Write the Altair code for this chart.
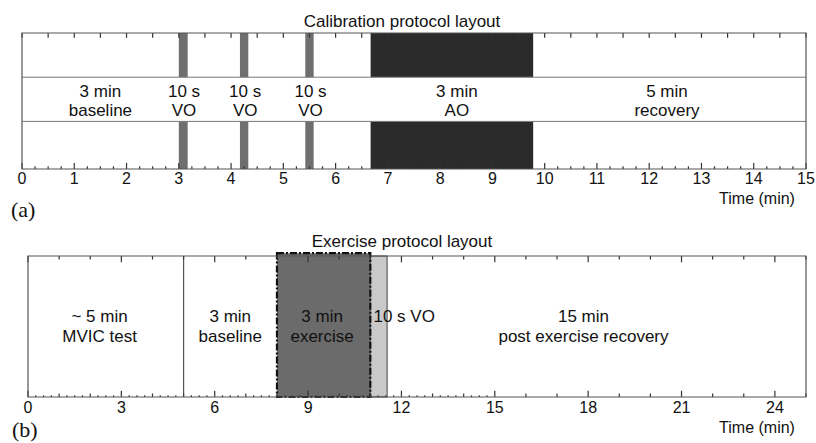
import altair as alt
import pandas as pd

FONT = "Liberation Sans"
FS = 17

# ---------------- Panel (a): calibration protocol ----------------
A_TITLE = "Calibration protocol layout"
A_TICKS = list(range(0, 16))
A_SEG_LABEL = ["VO", "VO", "VO", "AO"]
A_SEG_START = [3.0, 4.17, 5.42, 6.67]
A_SEG_END = [3.17, 4.33, 5.58, 9.78]
A_SEG_COLOR = ["#6f6f6f", "#6f6f6f", "#6f6f6f", "#2b2b2b"]
A_TEXT_X = [1.5, 3.1, 4.27, 5.52, 8.32, 12.34]
A_TEXT_L1 = ["3 min", "10 s", "10 s", "10 s", "3 min", "5 min"]
A_TEXT_L2 = ["baseline", "VO", "VO", "VO", "AO", "recovery"]

# ---------------- Panel (b): exercise protocol ----------------
B_TITLE = "Exercise protocol layout"
B_TICKS = [0, 3, 6, 9, 12, 15, 18, 21, 24]
B_DIVIDER = [5.0]
B_EXERCISE = [8.0, 11.0]
B_VO = [11.0, 11.54]
B_TEXT_X = [2.3, 6.5, 9.45, 17.85]
B_TEXT_L1 = ["~ 5 min", "3 min", "3 min", "15 min"]
B_TEXT_L2 = ["MVIC test", "baseline", "exercise", "post exercise recovery"]
B_VO_TEXT = "10 s VO"
B_VO_TEXT_X = 11.1

X_TITLE = "Time (min)"

# ---------------- scales ----------------
def xa(f):
    return alt.X(f, type="quantitative", axis=None,
                 scale=alt.Scale(domain=[0, 15], range=[22, 806], nice=False, zero=False))

def ya(f):
    return alt.Y(f, type="quantitative", axis=None,
                 scale=alt.Scale(domain=[0, 1], range=[169, 33], nice=False, zero=False))

def xb(f):
    return alt.X(f, type="quantitative", axis=None,
                 scale=alt.Scale(domain=[0, 25], range=[28, 806], nice=False, zero=False))

def yb(f):
    return alt.Y(f, type="quantitative", axis=None,
                 scale=alt.Scale(domain=[0, 1], range=[397, 256], nice=False, zero=False))

BAND_LO, BAND_HI = 0.35, 0.675
L1_Y, L2_Y = 0.566, 0.426

def txt(**kw):
    base = dict(font=FONT, fontSize=FS, baseline="middle", color="#111")
    base.update(kw)
    return base

# ---------------- panel (a) layers ----------------
seg = pd.DataFrame({"label": A_SEG_LABEL, "s": A_SEG_START, "e": A_SEG_END, "c": A_SEG_COLOR})
seg_up = seg.assign(y0=BAND_HI, y1=1.0)
seg_lo = seg.assign(y0=0.0, y1=BAND_LO)
seg_df = pd.concat([seg_up, seg_lo], ignore_index=True)

a_bars = alt.Chart(seg_df).mark_rect().encode(
    x=xa("s"), x2="e", y=ya("y0"), y2="y1",
    color=alt.Color("c:N", scale=None))

a_band = alt.Chart(pd.DataFrame({"x0": [0, 0], "x1": [15, 15], "y": [BAND_LO, BAND_HI]})).mark_rule(
    color="#777", strokeWidth=1).encode(x=xa("x0"), x2="x1", y=ya("y"))

a_ticks_rows = []
for i in range(61):
    t = i * 0.25
    if i % 4 == 0:
        a_ticks_rows.append((t, 0.0, 0.045))
    else:
        a_ticks_rows.append((t, 0.0, 0.02))
    if i % 2 == 0:
        a_ticks_rows.append((t, 1.0, 0.965))
a_ticks = alt.Chart(pd.DataFrame(a_ticks_rows, columns=["t", "y0", "y1"])).mark_rule(
    color="#333", strokeWidth=1.2).encode(x=xa("t"), y=ya("y0"), y2="y1")

a_frame = alt.Chart(pd.DataFrame({"x0": [0], "x1": [15], "y0": [0], "y1": [1]})).mark_rect(
    fillOpacity=0, stroke="#555", strokeWidth=1.2).encode(x=xa("x0"), x2="x1", y=ya("y0"), y2="y1")

a_text_df = pd.DataFrame({"x": A_TEXT_X, "l1": A_TEXT_L1, "l2": A_TEXT_L2, "y1": L1_Y, "y2": L2_Y})
a_t1 = alt.Chart(a_text_df).mark_text(**txt()).encode(x=xa("x"), y=ya("y1"), text="l1:N")
a_t2 = alt.Chart(a_text_df).mark_text(**txt()).encode(x=xa("x"), y=ya("y2"), text="l2:N")

a_lab = alt.Chart(pd.DataFrame({"t": A_TICKS})).mark_text(**txt(fontSize=16)).encode(
    x=xa("t"), y=alt.value(179), text=alt.Text("t:Q", format="d"))

a_title = alt.Chart(pd.DataFrame({"s": [A_TITLE]})).mark_text(**txt()).encode(
    x=alt.value(402), y=alt.value(22), text="s:N")
a_xtitle = alt.Chart(pd.DataFrame({"s": [X_TITLE]})).mark_text(**txt(fontSize=16)).encode(
    x=alt.value(757), y=alt.value(199), text="s:N")
a_tag = alt.Chart(pd.DataFrame({"s": ["(a)"]})).mark_text(
    **txt(font="Liberation Serif", fontSize=22, align="left")).encode(
    x=alt.value(11), y=alt.value(210), text="s:N")

panel_a = alt.layer(a_bars, a_band, a_ticks, a_frame, a_t1, a_t2, a_lab, a_title, a_xtitle, a_tag)

# ---------------- panel (b) layers ----------------
b_vo = alt.Chart(pd.DataFrame({"s": [B_VO[0]], "e": [B_VO[1]], "y0": [0], "y1": [1]})).mark_rect(
    color="#c9c9c9", stroke="#444", strokeWidth=1).encode(x=xb("s"), x2="e", y=yb("y0"), y2="y1")

b_ex = alt.Chart(pd.DataFrame({"s": [B_EXERCISE[0]], "e": [B_EXERCISE[1]], "y0": [0], "y1": [1.02]})).mark_rect(
    color="#6b6b6b", stroke="#111", strokeWidth=2.2, strokeDash=[7, 2, 2, 2]).encode(
    x=xb("s"), x2="e", y=yb("y0"), y2="y1")

b_div = alt.Chart(pd.DataFrame({"x": B_DIVIDER, "y0": [0], "y1": [1]})).mark_rule(
    color="#555", strokeWidth=1.2).encode(x=xb("x"), y=yb("y0"), y2="y1")

b_ticks_rows = []
for i in range(101):
    t = i * 0.25
    if i % 12 == 0:
        b_ticks_rows.append((t, 0.0, 0.045))
        b_ticks_rows.append((t, 1.0, 0.955))
    elif i % 4 == 0:
        b_ticks_rows.append((t, 0.0, 0.025))
        b_ticks_rows.append((t, 1.0, 0.975))
    elif t < 15:
        b_ticks_rows.append((t, 0.0, 0.012))
b_ticks = alt.Chart(pd.DataFrame(b_ticks_rows, columns=["t", "y0", "y1"])).mark_rule(
    color="#333", strokeWidth=1.2).encode(x=xb("t"), y=yb("y0"), y2="y1")

b_frame = alt.Chart(pd.DataFrame({"x0": [0], "x1": [25], "y0": [0], "y1": [1]})).mark_rect(
    fillOpacity=0, stroke="#555", strokeWidth=1.2).encode(x=xb("x0"), x2="x1", y=yb("y0"), y2="y1")

b_text_df = pd.DataFrame({"x": B_TEXT_X, "l1": B_TEXT_L1, "l2": B_TEXT_L2, "y1": L1_Y, "y2": L2_Y})
b_t1 = alt.Chart(b_text_df).mark_text(**txt()).encode(x=xb("x"), y=yb("y1"), text="l1:N")
b_t2 = alt.Chart(b_text_df).mark_text(**txt()).encode(x=xb("x"), y=yb("y2"), text="l2:N")
b_t3 = alt.Chart(pd.DataFrame({"x": [B_VO_TEXT_X], "y": [L1_Y], "s": [B_VO_TEXT]})).mark_text(
    **txt(align="left")).encode(x=xb("x"), y=yb("y"), text="s:N")

b_lab = alt.Chart(pd.DataFrame({"t": B_TICKS})).mark_text(**txt(fontSize=16)).encode(
    x=xb("t"), y=alt.value(408), text=alt.Text("t:Q", format="d"))

b_title = alt.Chart(pd.DataFrame({"s": [B_TITLE]})).mark_text(**txt()).encode(
    x=alt.value(402), y=alt.value(242), text="s:N")
b_xtitle = alt.Chart(pd.DataFrame({"s": [X_TITLE]})).mark_text(**txt(fontSize=16)).encode(
    x=alt.value(757), y=alt.value(428), text="s:N")
b_tag = alt.Chart(pd.DataFrame({"s": ["(b)"]})).mark_text(
    **txt(font="Liberation Serif", fontSize=22, align="left")).encode(
    x=alt.value(12), y=alt.value(430), text="s:N")

panel_b = alt.layer(b_vo, b_ex, b_div, b_ticks, b_frame, b_t1, b_t2, b_t3, b_lab, b_title, b_xtitle, b_tag)

chart = alt.layer(panel_a, panel_b).resolve_scale(
    x="independent", y="independent"
).properties(
    width=816, height=443,
    autosize=alt.AutoSizeParams(type="none"),
    padding=0,
    background="white",
).configure_view(stroke=None)

chart.save("out.html", embed_options={"renderer": "svg", "actions": False})
